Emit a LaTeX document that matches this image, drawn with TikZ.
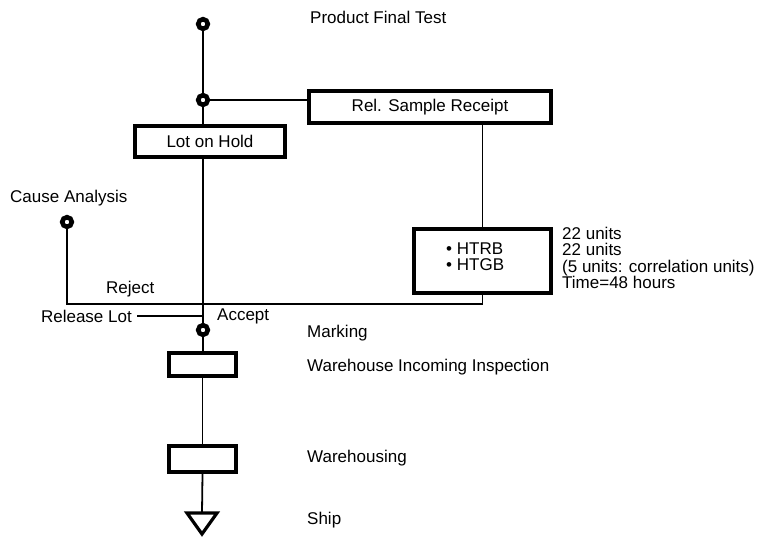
\documentclass[tikz,border=0pt]{standalone}
\usepackage{fontspec}
\setmainfont{Liberation Sans}
\begin{document}
\begin{tikzpicture}[x=1pt,y=-1pt,
  font=\fontsize{17}{19}\selectfont,
  box/.style={draw, line width=4pt, inner sep=0pt},
  ring/.style={circle, draw, line width=4.6pt, fill=white, minimum size=9.6pt, inner sep=0pt},
  conn/.style={line width=1.8pt},
  lbl/.style={anchor=west, inner sep=0pt}]
\useasboundingbox (0,0) rectangle (765,536);

% boxes
\node[box, minimum width=242pt, minimum height=32pt] (rel) at (430,107) {Rel. Sample Receipt};
\node[box, minimum width=150pt, minimum height=31pt] (lot) at (210,141.5) {Lot on Hold};
\node[box, minimum width=137pt, minimum height=64pt] (htrb) at (482.5,261) {};
\node[box, minimum width=67pt, minimum height=23pt] (wii) at (202.5,364.5) {};
\node[box, minimum width=67pt, minimum height=26pt] (wh) at (202.5,459) {};

% rings
\node[ring] (r1) at (203,24) {};
\node[ring] (r2) at (203,100) {};
\node[ring] (r3) at (67,222) {};
\node[ring] (r4) at (203,330) {};

% texts
\node[lbl] (pft) at (310,17) {Product Final Test};
\node[lbl] (cause) at (10,198) {Cause Analysis};
\node[lbl] (reject) at (106,289) {Reject};
\node[anchor=east, inner sep=0pt] (release) at (132,316) {Release Lot};
\node[lbl] (accept) at (217,316) {Accept};
\node[lbl] (marking) at (307,333) {Marking};
\node[lbl] (wiit) at (307,367) {Warehouse Incoming Inspection};
\node[lbl] (wht) at (307,458) {Warehousing};
\node[lbl] (ship) at (307,520) {Ship};
\node[lbl] (htrbt) at (446,249) {\textbullet\ HTRB};
\node[lbl] (htgbt) at (446,265) {\textbullet\ HTGB};
\node[lbl, align=left, font=\fontsize{17}{16.5}\selectfont] (info) at (562,258) {22 units\\22 units\\(5 units: correlation units)\\Time=48 hours};

% connectors
\coordinate (rj) at ([yshift=-9pt]htrb.south);
\coordinate (tri) at (202,513);
\draw[conn] (r1) -- (r2);
\draw[conn] (r2) -- (r2 -| rel.west);
\draw[conn] (r2) -- (r2 |- lot.north);
\draw[conn] (r2 |- lot.south) -- (r4);
\draw[conn] (htrb.north) -- (htrb.north |- rel.south);
\draw[conn] (htrb.south) -- (rj) -| (r3);
\draw[conn] ([xshift=5pt]release.east) -- (release.east -| r4);
\draw[conn] (r4) -- (wii.north -| r4);
\draw[conn] (wii.south) -- (wh.north);
\draw[conn] (wh.south) -- (tri);
\draw[line width=3.2pt, line join=miter] ([xshift=-15pt]tri) -- ([xshift=15pt]tri) -- ([yshift=-21pt]tri) -- cycle;
\end{tikzpicture}
\end{document}
